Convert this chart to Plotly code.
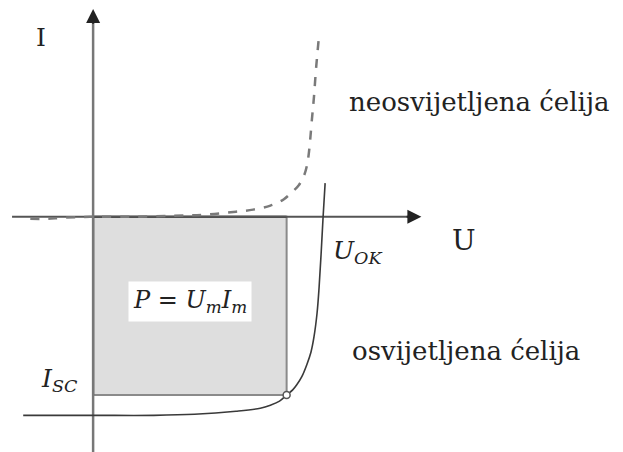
"""
Solar cell I-U characteristic: dark (neosvijetljena) vs. illuminated
(osvijetljena) cell, with the maximum power rectangle P = Um*Im.
Units are arbitrary (schematic diagram).
"""

import plotly.graph_objects as go

# ---------------------------------------------------------------------------
# Data (schematic units, origin at the axes crossing)
# ---------------------------------------------------------------------------
DARK_U = [-62, -45, -30, 0, 40, 80, 110, 141, 158, 175, 188, 195, 203, 208,
          211, 213, 216, 218, 220, 223]
DARK_I = [-2, -2, -1, 0, 0, 1, 2, 5, 7, 11, 17, 23, 31, 40,
          50, 63, 96, 118, 145, 178]

LIT_U = [-69, 0, 60, 100, 141, 165, 175, 184, 191, 197, 201, 206, 211,
         215, 218, 221, 223, 225, 227, 229]
LIT_I = [-195, -195, -195, -194, -191, -188, -185, -181, -175, -170, -165,
         -157, -145, -133, -118, -95, -70, -37, 0, 33]

U_M = 191        # voltage at maximum power point
I_M = -175       # current at maximum power point

AXIS_U = [-80, 318]     # horizontal axis extent (U)
AXIS_I = [-237, 198]    # vertical axis extent (I)

# the page body adds an 8 px margin, so the figure is 8 px smaller
X_RANGE = [-84, 523]
Y_RANGE = [-231, 205]

COLOR_AXIS = "#555555"
COLOR_DARK = "#7a7a7a"
COLOR_LIT = "#3a3a3a"
COLOR_FILL = "#dedede"
COLOR_EDGE = "#8a8a8a"
SERIF = "DejaVu Serif"

fig = go.Figure()

# ── Power rectangle ─────────────────────────────────────────────────────────
fig.add_trace(go.Scatter(
    x=[0, U_M, U_M, 0, 0],
    y=[0, 0, I_M, I_M, 0],
    fill="toself",
    fillcolor=COLOR_FILL,
    mode="lines",
    line=dict(color=COLOR_EDGE, width=2),
    hoverinfo="skip",
    showlegend=False,
))
# darker left and top edges
fig.add_trace(go.Scatter(
    x=[0, 0, U_M],
    y=[I_M, 0, 0],
    mode="lines",
    line=dict(color="#222222", width=2),
    hoverinfo="skip",
    showlegend=False,
))

# ── Axes ────────────────────────────────────────────────────────────────────
fig.add_trace(go.Scatter(
    x=[AXIS_U[0], AXIS_U[1]], y=[0, 0], mode="lines",
    line=dict(color=COLOR_AXIS, width=2), hoverinfo="skip", showlegend=False,
))
fig.add_trace(go.Scatter(
    x=[0, 0], y=[AXIS_I[0], AXIS_I[1]], mode="lines",
    line=dict(color="#777777", width=2.5), hoverinfo="skip", showlegend=False,
))
for tip, tail in [((AXIS_U[1] + 6, 0), (AXIS_U[1] - 10, 0)),
                  ((0, AXIS_I[1] + 6), (0, AXIS_I[1] - 10))]:
    fig.add_annotation(
        x=tip[0], y=tip[1], ax=tail[0], ay=tail[1],
        xref="x", yref="y", axref="x", ayref="y",
        showarrow=True, arrowhead=2, arrowsize=1.4, arrowwidth=2,
        arrowcolor="#222222", text="",
    )

# ── Curves ──────────────────────────────────────────────────────────────────
fig.add_trace(go.Scatter(
    x=DARK_U, y=DARK_I, mode="lines",
    line=dict(color=COLOR_DARK, width=2.5, dash="dash", shape="spline"),
    hoverinfo="skip", showlegend=False,
))
fig.add_trace(go.Scatter(
    x=LIT_U, y=LIT_I, mode="lines",
    line=dict(color=COLOR_LIT, width=1.6, shape="spline"),
    hoverinfo="skip", showlegend=False,
))
fig.add_trace(go.Scatter(
    x=[U_M], y=[I_M], mode="markers",
    marker=dict(size=7, color="white", line=dict(color="#555555", width=1.5)),
    hoverinfo="skip", showlegend=False,
))

# ── Labels ──────────────────────────────────────────────────────────────────
labels = [
    (-51, 176, "I", "center", 25),
    (366, -23, "U", "center", 28),
    (235, -35, "<i>U</i><sub><i>OK</i></sub>", "left", 25),
    (-53, -160, "<i>I</i><sub><i>SC</i></sub>", "left", 25),
    (251, 113, "neosvijetljena ćelija", "left", 26),
    (254, -132, "osvijetljena ćelija", "left", 26),
]
for x, y, text, anchor, size in labels:
    fig.add_annotation(
        x=x, y=y, xref="x", yref="y", text=text, showarrow=False,
        xanchor=anchor, yanchor="middle",
        font=dict(family=SERIF, size=size, color="#222222"),
    )

fig.add_annotation(
    x=U_M / 2, y=-83, xref="x", yref="y",
    text="<i>P</i> = <i>U</i><sub><i>m</i></sub><i>I</i><sub><i>m</i></sub>",
    showarrow=False, bgcolor="white", borderpad=4,
    font=dict(family=SERIF, size=24, color="#222222"),
)

# ── Layout ──────────────────────────────────────────────────────────────────
fig.update_xaxes(range=X_RANGE, visible=False, fixedrange=True)
fig.update_yaxes(range=Y_RANGE, visible=False, fixedrange=True)
fig.update_layout(
    width=615, height=444,
    margin=dict(l=0, r=0, t=0, b=0),
    paper_bgcolor="white",
    plot_bgcolor="white",
    showlegend=False,
)

fig.write_html("out.html")
